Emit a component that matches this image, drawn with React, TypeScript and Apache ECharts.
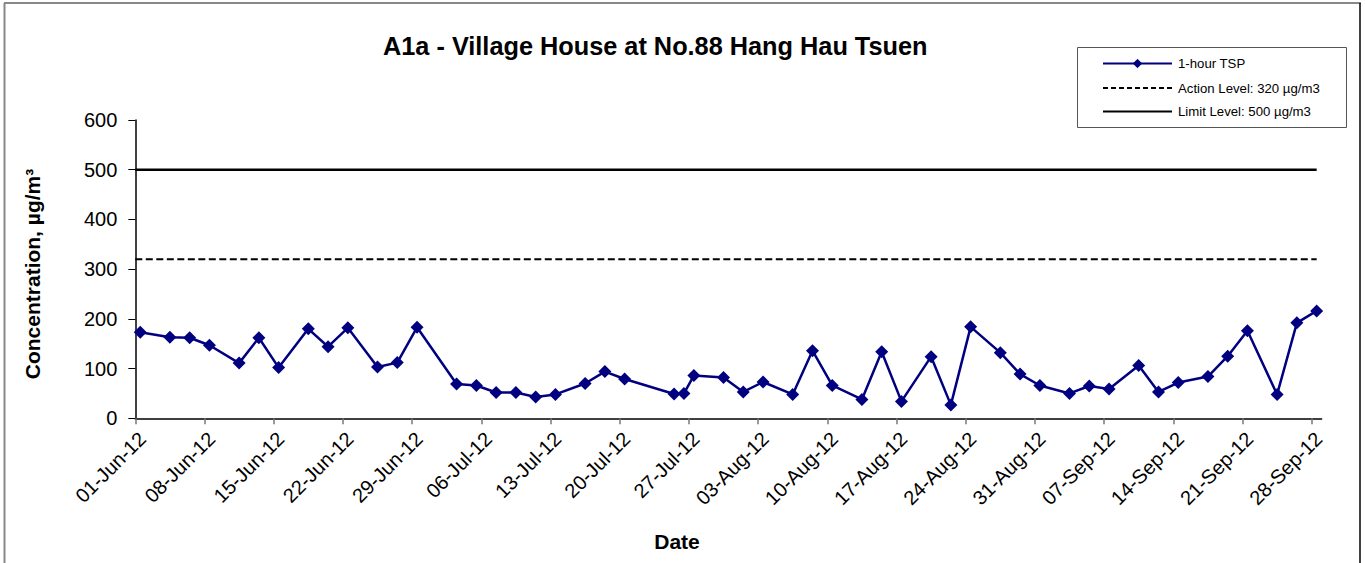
import React, { useEffect, useRef } from "react";
import * as echarts from "echarts";

const titleText = "A1a - Village House at No.88 Hang Hau Tsuen";
const yAxisName = "Concentration, µg/m³";
const xAxisName = "Date";

const sampleDates = [
  "2012-06-01", "2012-06-04", "2012-06-06", "2012-06-08", "2012-06-11", "2012-06-13",
  "2012-06-15", "2012-06-18", "2012-06-20", "2012-06-22", "2012-06-25", "2012-06-27",
  "2012-06-29", "2012-07-03", "2012-07-05", "2012-07-07", "2012-07-09", "2012-07-11",
  "2012-07-13", "2012-07-16", "2012-07-18", "2012-07-20", "2012-07-25", "2012-07-26",
  "2012-07-27", "2012-07-30", "2012-08-01", "2012-08-03", "2012-08-06", "2012-08-08",
  "2012-08-10", "2012-08-13", "2012-08-15", "2012-08-17", "2012-08-20", "2012-08-22",
  "2012-08-24", "2012-08-27", "2012-08-29", "2012-08-31", "2012-09-03", "2012-09-05",
  "2012-09-07", "2012-09-10", "2012-09-12", "2012-09-14", "2012-09-17", "2012-09-19",
  "2012-09-21", "2012-09-24", "2012-09-26", "2012-09-28",
];
const tspValues = [
  173, 163, 162, 147, 111, 162,
  102, 180, 144, 182, 103, 112,
  183, 69, 66, 52, 52, 43,
  48, 70, 94, 79, 49, 50,
  86, 82, 53, 73, 48, 136,
  66, 38, 134, 34, 124, 27,
  184, 132, 89, 66, 50, 65,
  59, 106, 53, 72, 84, 125,
  176, 48, 192, 216,
];
const tickLabels = [
  "01-Jun-12", "08-Jun-12", "15-Jun-12", "22-Jun-12", "29-Jun-12", "06-Jul-12",
  "13-Jul-12", "20-Jul-12", "27-Jul-12", "03-Aug-12", "10-Aug-12", "17-Aug-12",
  "24-Aug-12", "31-Aug-12", "07-Sep-12", "14-Sep-12", "21-Sep-12", "28-Sep-12",
];
const actionLevel = 320;
const limitLevel = 500;
const seriesNames = ["1-hour TSP", "Action Level: 320 µg/m3", "Limit Level: 500 µg/m3"];

const startDate = "2012-06-01";
const dayMs = 86400000;
const dayIndex = (d: string) =>
  Math.round((Date.parse(d + "T00:00:00Z") - Date.parse(startDate + "T00:00:00Z")) / dayMs);

export default function App() {
  const ref = useRef<HTMLDivElement>(null);
  useEffect(() => {
    if (!ref.current) return;
    const chart = echarts.init(ref.current, null, { renderer: "svg" });
    const totalDays = dayIndex("2012-09-28") + 1; // 120 day slots
    const tickValues = tickLabels.map((_, i) => i * 7);
    const tspData = sampleDates.map((d, i) => [dayIndex(d) + 0.5, tspValues[i]]);
    const lineEnd = totalDays - 0.5;
    const font = "Liberation Sans, Arial, sans-serif";
    const navy = "#000080";

    // manual legend layout
    const lgX1 = 1103;
    const lgX2 = 1172;
    const lgTextX = 1178;
    const lgRows = [63.5, 88, 111.5];
    const lgMid = (lgX1 + lgX2) / 2;
    const d = 4.2;

    chart.setOption({
      animation: false,
      backgroundColor: "#ffffff",
      textStyle: { fontFamily: font },
      title: {
        text: titleText,
        left: 383,
        top: 33,
        padding: 0,
        textStyle: { fontSize: 25.3, fontWeight: "bold", color: "#000", fontFamily: font },
      },
      grid: { left: 135.3, right: 43.4, top: 120, bottom: 144.7, containLabel: false },
      xAxis: {
        type: "value",
        min: 0,
        max: totalDays,
        splitLine: { show: false },
        axisLine: { show: true, onZero: false, lineStyle: { color: "#000", width: 1.5 } },
        axisTick: {
          show: true,
          length: 6,
          customValues: tickValues,
          lineStyle: { color: "#777", width: 1.5 },
        },
        axisLabel: {
          customValues: tickValues,
          rotate: 45,
          margin: 10,
          fontSize: 20,
          color: "#000",
          fontFamily: font,
          verticalAlign: "top",
          formatter: (v: number) => {
            const i = Math.round(v / 7);
            return Math.abs(v - i * 7) < 1e-6 && tickLabels[i] ? tickLabels[i] : "";
          },
        },
      },
      yAxis: {
        type: "value",
        min: 0,
        max: 600,
        interval: 100,
        splitLine: { show: false },
        axisLine: { show: true, lineStyle: { color: "#000", width: 1.5 } },
        axisTick: { show: true, length: 7, lineStyle: { color: "#000", width: 1 } },
        axisLabel: { margin: 18, fontSize: 20, color: "#000", fontFamily: font },
      },
      graphic: [
        {
          type: "line",
          shape: { x1: 4, y1: 3, x2: 1361, y2: 3 },
          style: { stroke: "#888", lineWidth: 2 },
          silent: true,
        },
        {
          type: "line",
          shape: { x1: 4.5, y1: 3, x2: 4.5, y2: 563 },
          style: { stroke: "#888", lineWidth: 2 },
          silent: true,
        },
        {
          type: "line",
          shape: { x1: 1360, y1: 3, x2: 1360, y2: 563 },
          style: { stroke: "#000", lineWidth: 1.5 },
          silent: true,
        },
        {
          type: "text",
          x: 32,
          y: 274,
          rotation: Math.PI / 2,
          style: {
            text: yAxisName,
            fontSize: 21,
            fontWeight: "bold",
            fill: "#000",
            fontFamily: font,
            align: "center",
            verticalAlign: "middle",
          },
          silent: true,
        },
        {
          type: "text",
          x: 677,
          y: 541,
          style: {
            text: xAxisName,
            fontSize: 21,
            fontWeight: "bold",
            fill: "#000",
            fontFamily: font,
            align: "center",
            verticalAlign: "middle",
          },
          silent: true,
        },
        // legend box
        {
          type: "rect",
          shape: { x: 1077.5, y: 47.5, width: 269, height: 80 },
          style: { stroke: "#555", fill: "#fff", lineWidth: 1 },
          silent: true,
        },
        {
          type: "line",
          shape: { x1: lgX1, y1: lgRows[0], x2: lgX2, y2: lgRows[0] },
          style: { stroke: navy, lineWidth: 2 },
          silent: true,
        },
        {
          type: "polygon",
          shape: {
            points: [
              [lgMid, lgRows[0] - d],
              [lgMid + d, lgRows[0]],
              [lgMid, lgRows[0] + d],
              [lgMid - d, lgRows[0]],
            ],
          },
          style: { fill: navy, stroke: navy, lineWidth: 1 },
          silent: true,
        },
        {
          type: "line",
          shape: { x1: lgX1, y1: lgRows[1], x2: lgX2, y2: lgRows[1] },
          style: { stroke: "#000", lineWidth: 2, lineDash: [5, 3] },
          silent: true,
        },
        {
          type: "line",
          shape: { x1: lgX1, y1: lgRows[2], x2: lgX2, y2: lgRows[2] },
          style: { stroke: "#000", lineWidth: 2.2 },
          silent: true,
        },
        ...seriesNames.map((n, i) => ({
          type: "text",
          x: lgTextX,
          y: lgRows[i],
          style: {
            text: n,
            fontSize: 13.2,
            fill: "#000",
            fontFamily: font,
            align: "left",
            verticalAlign: "middle",
          },
          silent: true,
        })),
      ],
      series: [
        {
          name: seriesNames[0],
          type: "line",
          data: tspData,
          z: 5,
          color: navy,
          symbol: "diamond",
          symbolSize: 13,
          lineStyle: { color: navy, width: 2.5 },
          itemStyle: { color: navy },
        },
        {
          name: seriesNames[1],
          type: "line",
          data: [[0, actionLevel], [lineEnd, actionLevel]],
          symbol: "none",
          color: "#000",
          lineStyle: { color: "#000", width: 2, type: [7, 3.5] },
        },
        {
          name: seriesNames[2],
          type: "line",
          data: [[0, limitLevel], [lineEnd, limitLevel]],
          symbol: "none",
          color: "#000",
          lineStyle: { color: "#000", width: 2.5 },
        },
      ],
    });
    return () => chart.dispose();
  }, []);
  return (
    <div
      ref={ref}
      style={{ position: "fixed", left: 0, top: 0, width: 1365, height: 563, background: "#fff" }}
    />
  );
}
